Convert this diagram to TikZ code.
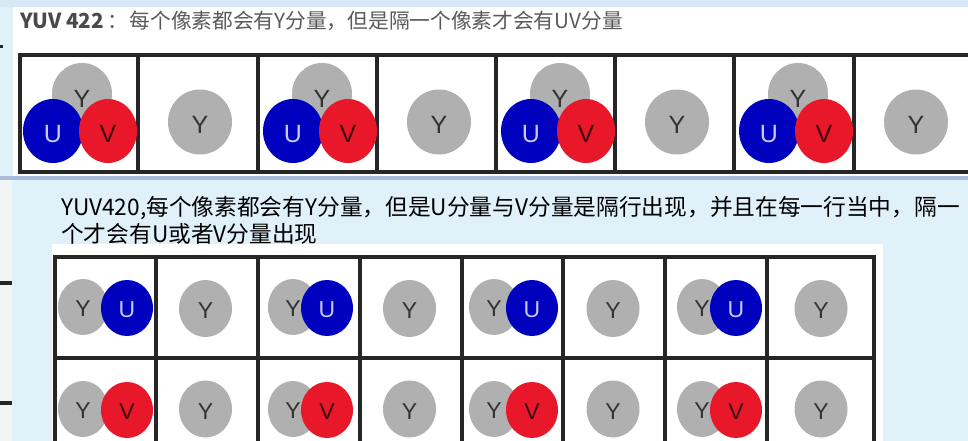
\documentclass[tikz,border=0pt]{standalone}
\usepackage{fontspec}
\newfontfamily\cjk{Noto Sans CJK SC}
\newfontfamily\lett{Liberation Sans}
\definecolor{bgblue}{HTML}{E1F1FA}
\definecolor{topstrip}{HTML}{D9E8F6}
\definecolor{band}{HTML}{A9BDDB}
\definecolor{leftstrip}{HTML}{F2F3F4}
\definecolor{gridc}{HTML}{262626}
\definecolor{ygray}{HTML}{B0B0B0}
\definecolor{ublue}{HTML}{0000BF}
\definecolor{vred}{HTML}{E8182A}
\definecolor{ytext}{HTML}{333333}
\definecolor{utext}{HTML}{C8C8F4}
\definecolor{vtext}{HTML}{3B0B10}
\definecolor{titlegray}{HTML}{4A4A4A}
\definecolor{textgray}{HTML}{5A5A5A}
\tikzset{
  gridline/.style={draw=gridc, line width=3.5pt},
  ltrbig/.style={inner sep=0pt, font=\lett\fontsize{25}{25}\selectfont},
  ltrsmall/.style={inner sep=0pt, font=\lett\fontsize{23}{23}\selectfont},
}
\begin{document}
\begin{tikzpicture}[x=1pt,y=-1pt]
\useasboundingbox (0,0) rectangle (968,441);
% backgrounds
\fill[bgblue] (0,0) rectangle (968,441);
\fill[topstrip] (0,0) rectangle (968,7);
\fill[white] (13,7) rectangle (968,176);
\fill[band] (0,176) rectangle (968,180);
\fill[leftstrip] (0,180) rectangle (12,441);
\fill[gridc] (0,281) rectangle (12,285);
\fill[gridc] (0,401) rectangle (12,405);
\fill[gridc] (0,45) rectangle (3,48);

% title 422
\node[anchor=west, inner sep=0pt, font=\cjk\fontsize{20.7}{24}\selectfont] (t422) at (20,21)
  {\textcolor{titlegray}{\bfseries YUV 422}\hspace{4pt}\textcolor{textgray}{：\hspace{1pt}每个像素都会有Y分量，但是隔一个像素才会有UV分量}};

% top grid
\draw[gridline] (18,55) -- (968,55);
\draw[gridline] (18,172) -- (968,172);
\foreach \X in {20,138,258,377,496,615,734,854}{
  \draw[gridline] (\X,54) -- (\X,173);
}
% top UV cells
\foreach \L [count=\i] in {18,258,496,734}{
  \fill[ygray] (\L+64,94) ellipse [x radius=30pt, y radius=31pt];
  \node[ltrbig, text=ytext] (tY\i) at (\L+64,99) {Y};
  \fill[ublue] (\L+35,131) ellipse [x radius=30pt, y radius=32pt];
  \node[ltrbig, text=utext] (tU\i) at (\L+35,134) {U};
  \fill[vred] (\L+90,131) ellipse [x radius=29pt, y radius=32pt];
  \node[ltrbig, text=vtext] (tV\i) at (\L+90,134) {V};
}
% top Y-only cells
\foreach \L [count=\i] in {138,377,615,854}{
  \fill[ygray] (\L+62,122) ellipse [x radius=32pt, y radius=32.5pt];
  \node[ltrbig, text=ytext] (tYo\i) at (\L+62,125) {Y};
}

% text 420
\node[anchor=north west, inner sep=0pt, align=left, font=\cjk\fontsize{22.7}{27}\selectfont, text=black] (t420) at (61,196)
  {YUV420,每个像素都会有Y分量，但是U分量与V分量是隔行出现，并且在每一行当中，隔一\\个才会有U或者V分量出现};

% white image area
\fill[white] (52,244) rectangle (883,441);

% bottom grid
\draw[gridline] (53,257) -- (876,257);
\draw[gridline] (53,358) -- (876,358);
\foreach \X in {55,156,258,360,462,563,665,767,874}{
  \draw[gridline] (\X,255) -- (\X,441);
}
% bottom row 1 (Y+U) and row 2 (Y+V)
\foreach \L/\yo/\uo [count=\i] in {53/30/74,258/35/69,462/32/70,665/37/71}{
  \fill[ygray] (\L+\yo,307) ellipse [x radius=25pt, y radius=28pt];
  \node[ltrsmall, text=ytext] (bY\i) at (\L+\yo,309) {Y};
  \fill[ublue] (\L+\uo,308) ellipse [x radius=26pt, y radius=28pt];
  \node[ltrsmall, text=utext] (bU\i) at (\L+\uo,310) {U};
  \fill[ygray] (\L+\yo,409) ellipse [x radius=25pt, y radius=28pt];
  \node[ltrsmall, text=ytext] (cY\i) at (\L+\yo,411) {Y};
  \fill[vred] (\L+\uo,410) ellipse [x radius=26pt, y radius=28pt];
  \node[ltrsmall, text=vtext] (cV\i) at (\L+\uo,412) {V};
}
\foreach \L/\yo [count=\i] in {156/49.5,360/49.5,563/50,767/54}{
  \fill[ygray] (\L+\yo,308.5) ellipse [x radius=26.5pt, y radius=28.5pt];
  \node[ltrsmall, text=ytext] (bYo\i) at (\L+\yo,311) {Y};
  \fill[ygray] (\L+\yo,409) ellipse [x radius=26.5pt, y radius=28.5pt];
  \node[ltrsmall, text=ytext] (cYo\i) at (\L+\yo,412) {Y};
}
\end{tikzpicture}
\end{document}
